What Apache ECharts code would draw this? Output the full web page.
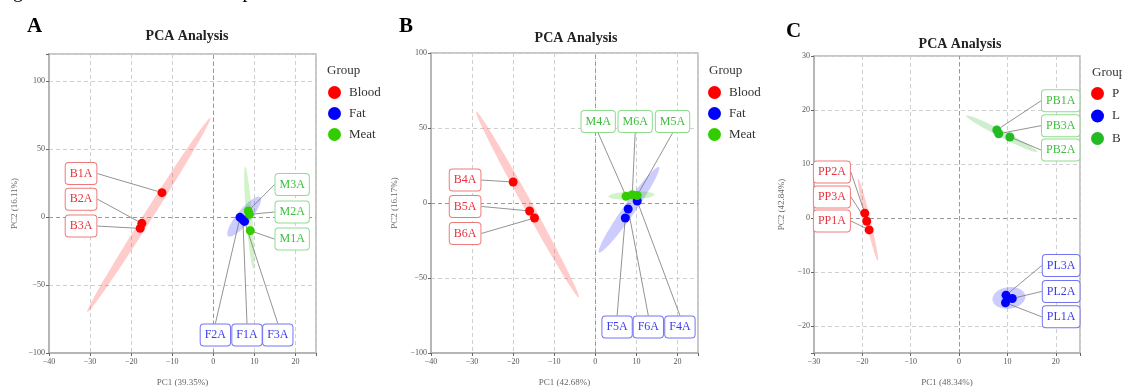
<!DOCTYPE html>
<html><head><meta charset="utf-8">
<script src="https://cdn.jsdelivr.net/npm/echarts@6/dist/echarts.min.js"></script>
<style>html,body{margin:0;padding:0;background:#fff}#c{width:1122px;height:392px}</style>
</head><body><div id="c"></div>
<script>
// ---------- DATA ----------
// Panel A
const A_bloodNames = ['B1A','B2A','B3A'];
const A_bloodPC1 = [-12.5, -17.4, -17.8];
const A_bloodPC2 = [18, -4.6, -8.3];
const A_fatNames = ['F2A','F1A','F3A'];
const A_fatPC1 = [6.5, 7.2, 7.6];
const A_fatPC2 = [-0.2, -2, -3.2];
const A_meatNames = ['M3A','M2A','M1A'];
const A_meatPC1 = [8.5, 8.8, 9.0];
const A_meatPC2 = [4.5, 2, -10];
// ellipses: [cx, cy, ux, uy, vx, vy]
const A_ellBlood = [-15.7, 1.5, 15, 71.5, 0.92, -1.78];
const A_ellFat = [7.5, 0.35, 3.9, 14.35, 1.31, -3.27];
const A_ellMeat = [8.75, -0.6, -1.0, 37.6, 0.73, 0.18];
// Panel B
const B_bloodNames = ['B4A','B5A','B6A'];
const B_bloodPC1 = [-20, -16, -14.8];
const B_bloodPC2 = [14, -5.3, -10];
const B_fatNames = ['F5A','F6A','F4A'];
const B_fatPC1 = [7.3, 8, 10.2];
const B_fatPC2 = [-10, -4, 1.3];
const B_meatNames = ['M4A','M6A','M5A'];
const B_meatPC1 = [7.5, 9, 10.2];
const B_meatPC2 = [4.5, 5.5, 5];
const B_ellBlood = [-16.5, -1, -12.5, 62, 0.96, 1.46];
const B_ellFat = [8.2, -4.5, 7.3, 28.5, 1.2, -2.3];
const B_ellMeat = [8.8, 5, 5.6, 0.6, 0.1, 2.7];
// Panel C
const C_pNames = ['PP2A','PP3A','PP1A'];
const C_pPC1 = [-19.5, -19.1, -18.6];
const C_pPC2 = [0.9, -0.6, -2.2];
const C_lNames = ['PL3A','PL2A','PL1A'];
const C_lPC1 = [9.7, 11, 9.6];
const C_lPC2 = [-14.3, -14.9, -15.7];
const C_bNames = ['PB1A','PB3A','PB2A'];
const C_bPC1 = [7.8, 8.2, 10.5];
const C_bPC2 = [16.3, 15.6, 15];
const C_ellP = [-18.85, -0.3, 2.05, -7.6, 0.5, 0.106];
const C_ellL = [10.3, -14.8, 3.4, 0.2, 0.05, 2.0];
const C_ellB = [8.8, 15.6, 7.35, -3.35, -0.33, -0.57];
// Axis texts
const titles = ['PCA Analysis','PCA Analysis','PCA Analysis'];
const panelLetters = ['A','B','C'];
const xNames = ['PC1 (39.35%)','PC1 (42.68%)','PC1 (48.34%)'];
const yNames = ['PC2 (16.11%)','PC2 (16.17%)','PC2 (42.84%)'];
const groupsAB = ['Blood','Fat','Meat'];
const groupsC = ['P','L','B'];

// ---------- LAYOUT (label anchor positions, in PC units) ----------
const A_bloodLab = [[-32.2,32],[-32.2,13.2],[-32.2,-6.6]];
const A_fatLab = [[0.5,-86.8],[8.2,-86.8],[15.7,-86.8]];
const A_meatLab = [[19.2,23.9],[19.2,3.7],[19.2,-16.2]];
const B_bloodLab = [[-31.7,15.3],[-31.7,-2.3],[-31.7,-20.3]];
const B_fatLab = [[5.3,-82.7],[12.9,-82.7],[20.6,-82.7]];
const B_meatLab = [[0.7,54.3],[9.7,54.3],[18.8,54.3]];
const C_pLab = [[-26.3,8.5],[-26.3,3.9],[-26.3,-0.55]];
const C_lLab = [[21.1,-8.8],[21.1,-13.6],[21.1,-18.3]];
const C_bLab = [[21,21.7],[21,17.1],[21,12.6]];

const SERIF = 'Liberation Serif';
const RED = '#ff0000', BLUE = '#0000ff', GREEN = '#33cc00', GREEN_C = '#22bb22';
const lab = {
  red: {text:'#e8323c', border:'#f07a7a'},
  blue:{text:'#3a3af0', border:'#7474f2'},
  green:{text:'#3dbd3d', border:'#8edc8e'}
};
const fill = {red:'rgba(255,0,0,0.2)', blue:'rgba(0,0,255,0.2)', green:'rgba(40,200,0,0.22)'};

const grids = [
  {left:49, top:54, width:267, height:300},
  {left:431, top:53, width:267, height:301},
  {left:814, top:56, width:266, height:300}
];
const xRanges = [[-40,25],[-40,25],[-30,25]];
const yRanges = [[-100,120],[-100,100],[-25,30]];
const yIntervals = [50, 50, null];

const chart = echarts.init(document.getElementById('c'), null, {renderer:'canvas'});

function fmtNum(v){ return (v<0 ? '\u2212' + Math.abs(v) : String(v)); }

const xAxes = [], yAxes = [];
for (let g=0; g<3; g++){
  const common = {
    type:'value',
    gridIndex:g,
    axisLine:{show:true, onZero:false, lineStyle:{color:'#b0b0b0', width:1.5}},
    axisTick:{show:true, length:3, lineStyle:{color:'#666'}},
    splitLine:{show:true, lineStyle:{color:'#d0d0d0', type:[4,3], width:1}},
    nameLocation:'middle',
    nameTextStyle:{fontFamily:SERIF, fontSize:9, color:'#666'}
  };
  xAxes.push(Object.assign({}, common, {
    min:xRanges[g][0], max:xRanges[g][1], interval:10,
    name:xNames[g], nameGap:25,
    axisLabel:{fontFamily:SERIF, fontSize:8, color:'#555', margin:5,
      formatter:v => (v % 10 === 0 ? fmtNum(v) : '')}
  }));
  const y = Object.assign({}, common, {
    min:yRanges[g][0], max:yRanges[g][1],
    name:yNames[g], nameGap:[30,32,28][g],
    axisLabel:{fontFamily:SERIF, fontSize:8, color:'#555', margin:4,
      formatter:v => ((g<2 ? v % 50 === 0 : v % 10 === 0) ? fmtNum(v) : '')}
  });
  if (yIntervals[g]) y.interval = yIntervals[g]; else y.splitNumber = 5;
  yAxes.push(y);
}

function pts(names, pc1, pc2){ return names.map((n,i)=>({name:n, value:[pc1[i], pc2[i]]})); }

function ellipseSeries(g, e, color){
  return {
    type:'custom', xAxisIndex:g, yAxisIndex:g, z:1, silent:true,
    data:[e], encode:{x:0, y:1},
    renderItem:function(params, api){
      const cx=api.value(0), cy=api.value(1), ux=api.value(2), uy=api.value(3), vx=api.value(4), vy=api.value(5);
      const p=[];
      for(let k=0;k<90;k++){
        const t=k/90*2*Math.PI;
        p.push(api.coord([cx+ux*Math.cos(t)+vx*Math.sin(t), cy+uy*Math.cos(t)+vy*Math.sin(t)]));
      }
      return {type:'polygon', shape:{points:p}, style:{fill:color}};
    }
  };
}

const labelMeta = [];
const series = [];
function addScatter(name, g, data, color, lc, labPos){
  series.push({
    type:'scatter', name:name, xAxisIndex:g, yAxisIndex:g, z:4,
    data:data, symbol:'circle', symbolSize:9,
    itemStyle:{color:color, opacity:1},
    label:{show:true, formatter:'{b}', fontFamily:SERIF, fontSize:12, color:lc.text,
      backgroundColor:'#fff', borderColor:lc.border, borderWidth:1, borderRadius:3,
      padding:[4,4,3,4], lineHeight:14},
    labelLine:{show:true, lineStyle:{color:'#777', width:0.8}},
    emphasis:{disabled:true}
  });
  labelMeta[series.length-1] = {g:g, pos:labPos};
}
function addZeroLines(g){
  series.push({
    type:'line', xAxisIndex:g, yAxisIndex:g, data:[], z:2, silent:true,
    markLine:{silent:true, z:2, symbol:'none', label:{show:false},
      lineStyle:{type:[4,3], color:'#999', width:1},
      data:[{xAxis:0},{yAxis:0}]}
  });
}

// Panel A
series.push(ellipseSeries(0, A_ellBlood, fill.red));
series.push(ellipseSeries(0, A_ellFat, fill.blue));
series.push(ellipseSeries(0, A_ellMeat, fill.green));
addZeroLines(0);
addScatter('Blood', 0, pts(A_bloodNames, A_bloodPC1, A_bloodPC2), RED, lab.red, A_bloodLab);
addScatter('Fat', 0, pts(A_fatNames, A_fatPC1, A_fatPC2), BLUE, lab.blue, A_fatLab);
addScatter('Meat', 0, pts(A_meatNames, A_meatPC1, A_meatPC2), GREEN, lab.green, A_meatLab);
// Panel B
series.push(ellipseSeries(1, B_ellBlood, fill.red));
series.push(ellipseSeries(1, B_ellFat, fill.blue));
series.push(ellipseSeries(1, B_ellMeat, fill.green));
addZeroLines(1);
addScatter('Blood', 1, pts(B_bloodNames, B_bloodPC1, B_bloodPC2), RED, lab.red, B_bloodLab);
addScatter('Fat', 1, pts(B_fatNames, B_fatPC1, B_fatPC2), BLUE, lab.blue, B_fatLab);
addScatter('Meat', 1, pts(B_meatNames, B_meatPC1, B_meatPC2), GREEN, lab.green, B_meatLab);
// Panel C
series.push(ellipseSeries(2, C_ellP, fill.red));
series.push(ellipseSeries(2, C_ellL, fill.blue));
series.push(ellipseSeries(2, C_ellB, 'rgba(30,180,30,0.22)'));
addZeroLines(2);
addScatter('P', 2, pts(C_pNames, C_pPC1, C_pPC2), RED, lab.red, C_pLab);
addScatter('L', 2, pts(C_lNames, C_lPC1, C_lPC2), BLUE, lab.blue, C_lLab);
addScatter('B', 2, pts(C_bNames, C_bPC1, C_bPC2), GREEN_C, lab.green, C_bLab);

const tStyle = {fontFamily:SERIF, fontWeight:'bold', fontSize:14, color:'#222'};
const title = [
  {text:'ginal data source in GC-MS plots are shown below at th', left:8, top:-23,
    textStyle:{fontFamily:SERIF, fontWeight:'normal', fontSize:20, color:'#000'}},
  {text:panelLetters[0], left:22, top:11, textStyle:{fontFamily:SERIF, fontWeight:'bold', fontSize:21, color:'#000'}},
  {text:panelLetters[1], left:394, top:11, textStyle:{fontFamily:SERIF, fontWeight:'bold', fontSize:21, color:'#000'}},
  {text:panelLetters[2], left:781, top:16, textStyle:{fontFamily:SERIF, fontWeight:'bold', fontSize:21, color:'#000'}},
  {text:titles[0], left:182, textAlign:'center', top:24, textStyle:tStyle},
  {text:titles[1], left:571, textAlign:'center', top:26, textStyle:tStyle},
  {text:titles[2], left:955, textAlign:'center', top:32, textStyle:tStyle},
  {text:'Group', left:322, top:59, textStyle:{fontFamily:SERIF, fontWeight:'normal', fontSize:13, color:'#333'}},
  {text:'Group', left:704, top:59, textStyle:{fontFamily:SERIF, fontWeight:'normal', fontSize:13, color:'#333'}},
  {text:'Group', left:1087, top:61, textStyle:{fontFamily:SERIF, fontWeight:'normal', fontSize:13, color:'#333'}}
];
const legBase = {orient:'vertical', icon:'circle', itemWidth:13, itemHeight:13, itemGap:8, selectedMode:false,
  textStyle:{fontFamily:SERIF, fontSize:13, color:'#333', lineHeight:13, padding:[0,0,0,3]}};
const legend = [
  Object.assign({}, legBase, {data:groupsAB, left:323, top:81}),
  Object.assign({}, legBase, {data:groupsAB, left:703, top:81}),
  Object.assign({}, legBase, {data:groupsC, left:1086, top:82, itemGap:9.5})
];

const option = {
  animation:false,
  backgroundColor:'#fff',
  title:title,
  legend:legend,
  grid:grids.map(g=>Object.assign({show:true, borderColor:'#b5b5b5', borderWidth:1.5, containLabel:false}, g)),
  xAxis:xAxes, yAxis:yAxes,
  series:series
};
chart.setOption(option);

// Second pass: place the labels (through the chart's own scales)
const upd = series.map((s,i)=>{
  const m = labelMeta[i];
  if(!m) return {};
  const px = m.pos.map(p=>chart.convertToPixel({xAxisIndex:m.g, yAxisIndex:m.g}, p));
  return {labelLayout:function(params){
    const q = px[params.dataIndex];
    return {x:q[0], y:q[1], align:'center', verticalAlign:'middle'};
  }};
});
chart.setOption({series:upd});
</script></body></html>
